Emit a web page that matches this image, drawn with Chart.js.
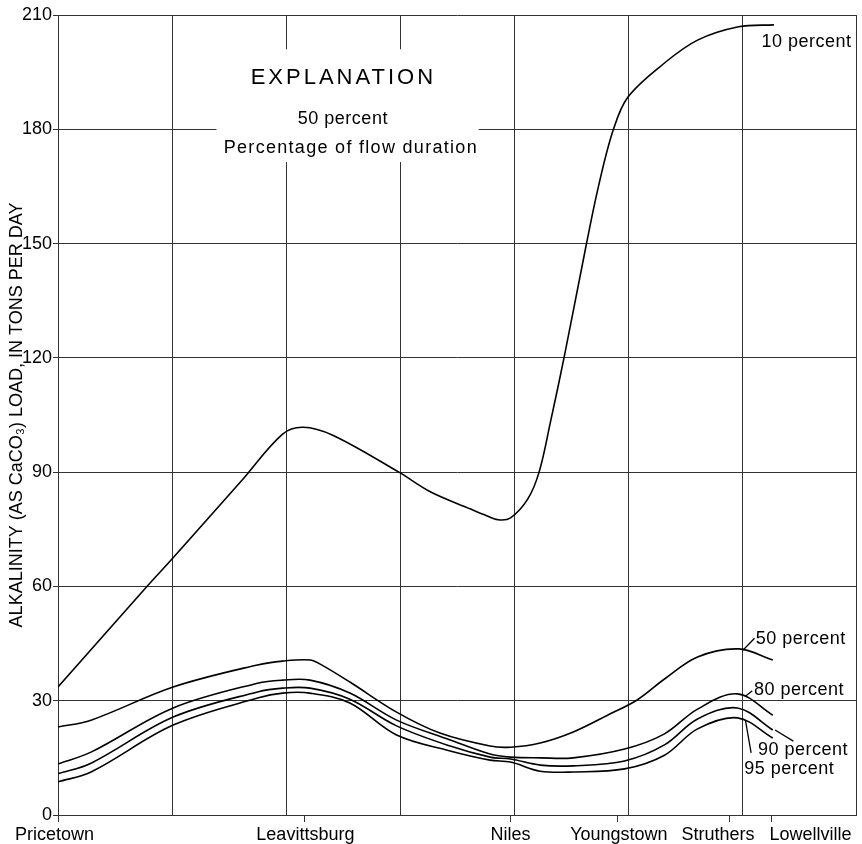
<!DOCTYPE html>
<html>
<head>
<meta charset="utf-8">
<script src="https://cdn.jsdelivr.net/npm/chart.js@4.4.1/dist/chart.umd.min.js"></script>
<style>
  html, body { margin: 0; padding: 0; background: #fff; }
  #wrap { width: 862px; height: 844px; }
</style>
</head>
<body>
<div id="wrap"><canvas id="chart" width="862" height="844"></canvas></div>
<script>
// Stations along the river; x is in grid units (one unit per vertical grid line)
const stations = ['Pricetown', 'Leavittsburg', 'Niles', 'Youngstown', 'Struthers', 'Lowellville'];
const stationX = [0, 2.16, 3.97, 4.91, 5.89, 6.26];
const yTicks = [0, 30, 60, 90, 120, 150, 180, 210];

// 10 percent of flow duration
const x10 = [0, 0.78, 1.00, 1.60, 1.97, 2.15, 2.41, 2.99, 3.27, 3.62, 3.74, 3.86, 3.97, 4.12, 4.22, 4.32, 4.44, 4.63, 4.74, 4.87, 5.00, 5.32, 5.61, 5.97, 6.28];
const load10 = [33.6, 60, 67.2, 87.4, 100, 101.8, 99.7, 90, 84.8, 80.3, 78.8, 77.5, 78.0, 82.9, 90, 103.2, 120.2, 149.1, 164.9, 179.8, 188.5, 197.4, 203.4, 206.9, 207.4];

// 50 percent
const x50 = [0, 0.29, 1.01, 1.75, 1.97, 2.21, 2.30, 2.56, 2.97, 3.35, 3.79, 3.97, 4.23, 4.52, 4.82, 5.08, 5.32, 5.61, 5.97, 6.27];
const load50 = [23.1, 24.9, 33.6, 39.4, 40.4, 40.7, 39.6, 34.9, 27.0, 21.5, 18.1, 17.8, 18.9, 21.8, 26.2, 30.2, 35.7, 41.5, 43.6, 40.7];

// 80, 90 and 95 percent share the same reading positions
const xLow = [0, 0.29, 1.01, 1.75, 1.97, 2.21, 2.56, 2.97, 3.44, 3.79, 3.97, 4.23, 4.52, 4.97, 5.32, 5.61, 5.96, 6.27];
const load80 = [13.4, 16.5, 28.1, 34.6, 35.4, 35.4, 32.0, 24.9, 19.7, 16.0, 15.2, 15.0, 15.0, 17.3, 21.3, 27.8, 31.8, 26.2];
const load90 = [10.8, 13.6, 25.7, 32.3, 33.3, 33.3, 30.4, 23.4, 18.1, 15.2, 14.7, 13.1, 12.9, 14.2, 18.4, 25.2, 28.1, 22.3];
const load95 = [8.7, 11.3, 23.6, 30.7, 32.0, 32.0, 29.4, 21.0, 16.8, 14.4, 13.9, 11.5, 11.3, 12.1, 15.7, 22.6, 25.5, 20.2];

// where the station names sit (they are nudged off their tick marks in the original)
const stationLabelX = [-0.03, 2.17, 3.97, 4.92, 5.79, 6.60];

// curve labels: text, anchor [x, y], leader line [x1, y1, x2, y2] or null
const curveLabels = [
  ['10 percent', [6.17, 202.9], null],
  ['50 percent', [6.12, 46.2], [6.01, 43.3, 6.11, 46.4]],
  ['80 percent', [6.105, 32.8], [6.03, 31.2, 6.09, 32.6]],
  ['90 percent', [6.14, 17.1], [6.29, 22.3, 6.45, 19.4]],
  ['95 percent', [6.02, 12.1], [6.03, 24.9, 6.08, 16.3]]
];

const FONT = "'Liberation Sans', Arial, sans-serif";
Chart.defaults.font.family = FONT;
Chart.defaults.color = '#000';

const pts = (xs, ys) => xs.map((x, i) => ({ x, y: ys[i] }));
const line = (label, data) => ({
  label, data,
  borderColor: '#000',
  borderWidth: 1.6,
  pointRadius: 0,
  fill: false,
  tension: 0.35
});

// explanation block inside the plot, and labels at the right end of the curves
const notes = {
  id: 'notes',
  beforeDatasetsDraw(chart) {
    const { ctx, scales: { x, y } } = chart;
    const l = x.getPixelForValue(1.39), r = x.getPixelForValue(3.69);
    const t = y.getPixelForValue(201), b = y.getPixelForValue(171.4);
    ctx.save();
    ctx.fillStyle = '#fff';
    ctx.fillRect(l, t, r - l, b - t);
    ctx.fillStyle = '#000';
    ctx.textAlign = 'center';
    ctx.textBaseline = 'middle';
    const cx = x.getPixelForValue(2.49);
    ctx.font = `22px ${FONT}`;
    ctx.letterSpacing = '3px';
    ctx.fillText('EXPLANATION', cx + 1.5, y.getPixelForValue(193.5));
    ctx.font = `18px ${FONT}`;
    ctx.letterSpacing = '0.5px';
    ctx.fillText('50 percent', cx + 1, y.getPixelForValue(182.7));
    ctx.letterSpacing = '1.3px';
    ctx.fillText('Percentage of flow duration', cx + 9, y.getPixelForValue(175.1));
    ctx.restore();
  },
  afterDatasetsDraw(chart) {
    const { ctx, scales: { x, y } } = chart;
    ctx.save();
    ctx.fillStyle = '#000';
    ctx.strokeStyle = '#000';
    ctx.lineWidth = 1.3;
    ctx.font = `18px ${FONT}`;
    ctx.letterSpacing = '0.5px';
    ctx.textAlign = 'left';
    ctx.textBaseline = 'middle';
    curveLabels.forEach(([text, at, lead]) => {
      ctx.fillText(text, x.getPixelForValue(at[0]), y.getPixelForValue(at[1]));
      if (lead) {
        ctx.beginPath();
        ctx.moveTo(x.getPixelForValue(lead[0]), y.getPixelForValue(lead[1]));
        ctx.lineTo(x.getPixelForValue(lead[2]), y.getPixelForValue(lead[3]));
        ctx.stroke();
      }
    });
    ctx.restore();
  }
};

new Chart(document.getElementById('chart'), {
  type: 'line',
  data: {
    datasets: [
      line('10 percent', pts(x10, load10)),
      line('50 percent', pts(x50, load50)),
      line('80 percent', pts(xLow, load80)),
      line('90 percent', pts(xLow, load90)),
      line('95 percent', pts(xLow, load95))
    ]
  },
  options: {
    responsive: false,
    animation: false,
    layout: { padding: { top: 15, right: 6, left: 0, bottom: 0 } },
    plugins: { legend: { display: false }, tooltip: { enabled: false } },
    scales: {
      x: {
        type: 'linear', position: 'bottom', weight: 0,
        min: 0, max: 7,
        ticks: { display: false, stepSize: 1 },
        grid: { color: '#333', lineWidth: 1, drawTicks: false },
        border: { color: '#333' },
        afterFit: s => { s.height = 0; }
      },
      xTick: {
        type: 'linear', position: 'bottom', weight: 1,
        min: 0, max: 7,
        afterBuildTicks: s => { s.ticks = stationX.map(v => ({ value: v })); },
        ticks: { display: false },
        grid: { drawOnChartArea: false, tickLength: 7, color: '#333' },
        border: { display: false },
        afterFit: s => { s.height = 7; }
      },
      xName: {
        type: 'linear', position: 'bottom', weight: 2,
        min: 0, max: 7,
        afterBuildTicks: s => { s.ticks = stationLabelX.map(v => ({ value: v })); },
        ticks: {
          autoSkip: false, maxRotation: 0, padding: 2,
          font: { size: 18 },
          callback: (v, i) => stations[i]
        },
        grid: { display: false, drawTicks: false },
        border: { display: false },
        afterFit: s => { s.height = 22; }
      },
      y: {
        min: 0, max: 210,
        afterBuildTicks: s => { s.ticks = yTicks.map(v => ({ value: v })); },
        ticks: { font: { size: 18 }, padding: 1 },
        grid: { color: '#333', lineWidth: 1, tickLength: 5 },
        border: { color: '#333' },
        title: {
          display: true,
          text: 'ALKALINITY (AS CaCO\u2083) LOAD, IN TONS PER DAY',
          font: { size: 18 },
          padding: { top: 6, bottom: 0 }
        },
        afterFit: s => { s.width = 58; }
      }
    }
  },
  plugins: [notes]
});
</script>
</body>
</html>
